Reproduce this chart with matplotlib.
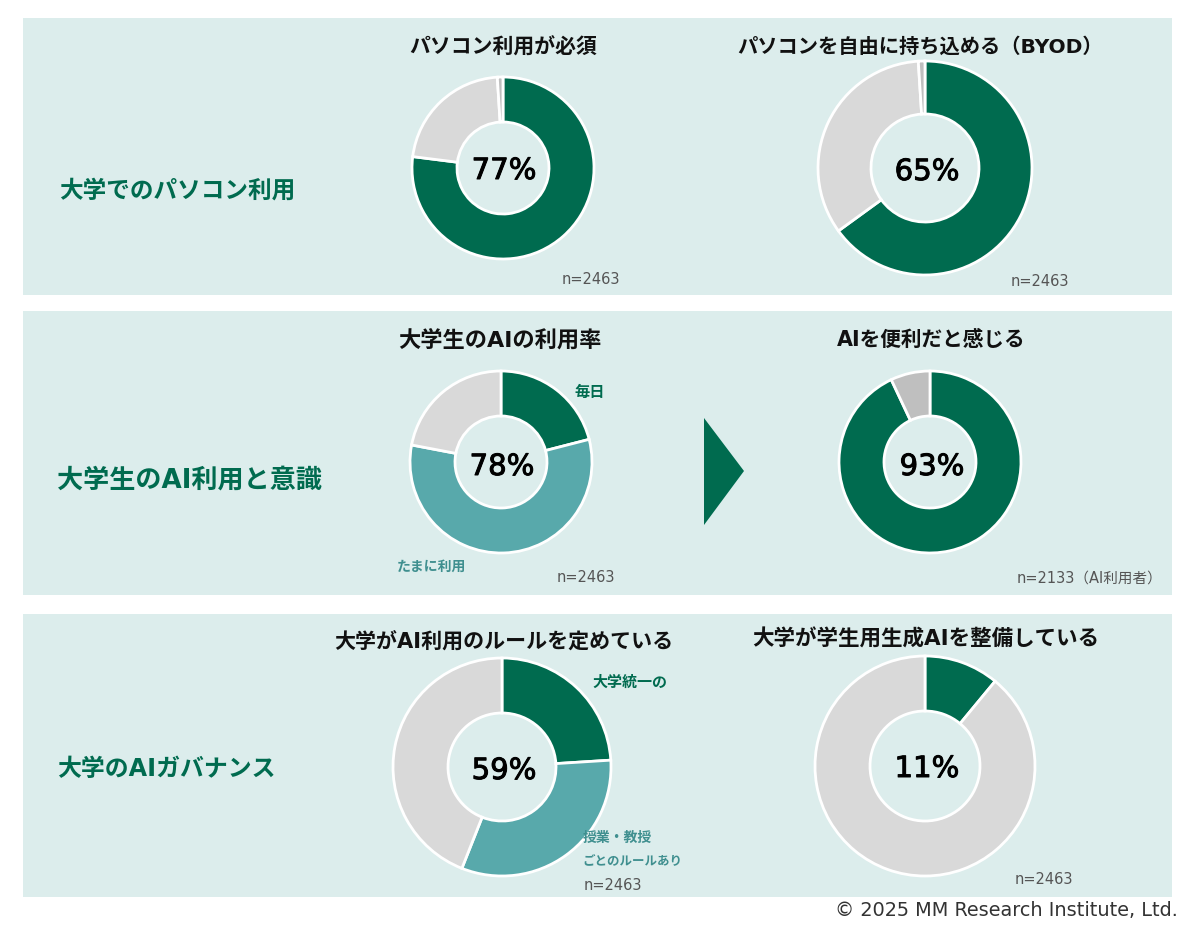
import matplotlib
matplotlib.use('Agg')
import matplotlib.pyplot as plt
import matplotlib.patheffects as pe
from matplotlib.patches import Rectangle, Polygon

plt.rcParams['font.family'] = ['DejaVu Sans', 'Noto Sans CJK JP']

# values
pc_required = [77, 22, 1]
pc_byod = [65, 34, 1]
ai_usage = [21, 57, 22]
ai_useful = [93, 7]
ai_rules = [24, 32, 44]
ai_provided = [11, 89]

center_labels = ['77%', '65%', '78%', '93%', '59%', '11%']
titles = ['パソコン利用が必須', 'パソコンを自由に持ち込める（BYOD）',
          '大学生のAIの利用率', 'AIを便利だと感じる',
          '大学がAI利用のルールを定めている', '大学が学生用生成AIを整備している']
section_labels = ['大学でのパソコン利用', '大学生のAI利用と意識', '大学のAIガバナンス']
sample_labels = ['n=2463', 'n=2463', 'n=2463', 'n=2133（AI利用者）', 'n=2463', 'n=2463']

GREEN = '#006B4F'
TEAL = '#58A9AB'
GRAY = '#D9D9D9'
DARK_GRAY = '#BFBFBF'
PANEL = '#DCEDEC'
W, H = 1200, 933

fig = plt.figure(figsize=(12, 9.33), dpi=100, facecolor='white')

# background axes in pixel coordinates
bg = fig.add_axes([0, 0, 1, 1], zorder=0)
bg.set_xlim(0, W)
bg.set_ylim(H, 0)
bg.axis('off')
for top, bottom in [(18, 295), (311, 595), (614, 897)]:
    bg.add_patch(Rectangle((23, top), 1149, bottom - top, facecolor=PANEL, edgecolor='none'))
bg.add_patch(Polygon([(704, 418), (744, 471), (704, 525)], facecolor=GREEN, edgecolor='none'))


def donut(values, colors, cx, cy, r, hole):
    ax = fig.add_axes([(cx - r - 2) / W, 1 - (cy + r + 2) / H, (2 * r + 4) / W, (2 * r + 4) / H], zorder=1)
    ax.pie(values, colors=colors, startangle=90, counterclock=False, radius=r,
           wedgeprops=dict(width=r - hole, edgecolor='white', linewidth=2))
    ax.set_xlim(-r - 2, r + 2)
    ax.set_ylim(-r - 2, r + 2)
    ax.set_aspect('equal')
    ax.axis('off')


donut(pc_required, [GREEN, GRAY, DARK_GRAY], 503, 168, 91, 46)
donut(pc_byod, [GREEN, GRAY, DARK_GRAY], 925, 168, 107, 54)
donut(ai_usage, [GREEN, TEAL, GRAY], 501, 462, 91, 46)
donut(ai_useful, [GREEN, DARK_GRAY], 930, 462, 91, 46)
donut(ai_rules, [GREEN, TEAL, GRAY], 502, 767, 109, 54)
donut(ai_provided, [GREEN, GRAY], 925, 766, 110, 55)

# text goes on top of the donuts
top_ax = fig.add_axes([0, 0, 1, 1], zorder=2)
top_ax.set_xlim(0, W)
top_ax.set_ylim(H, 0)
top_ax.axis('off')
top_ax.patch.set_alpha(0)

title_pos = [(503, 47), (920, 47), (500, 340), (931, 340), (504, 641), (926, 639)]
title_sizes = [15, 14.6, 16, 14.9, 15.1, 15.5]
for t, (x, y), s in zip(titles, title_pos, title_sizes):
    top_ax.text(x, y, t, ha='center', va='center', fontsize=s, fontweight='bold', color='#111111')

center_pos = [(504, 171), (927, 172), (502, 467), (932, 467), (504, 771), (927, 769)]
for t, (x, y) in zip(center_labels, center_pos):
    top_ax.text(x, y, t, ha='center', va='center', fontsize=21, color='black',
                path_effects=[pe.withStroke(linewidth=0.7, foreground='black')])

section_pos = [(59, 191), (57, 481), (57, 769)]
section_sizes = [17, 18.8, 17.2]
for t, (x, y), s in zip(section_labels, section_pos, section_sizes):
    top_ax.text(x, y, t, ha='left', va='center', fontsize=s, fontweight='bold', color=GREEN)

sample_pos = [(562, 279), (1011, 281), (557, 578), (1017, 578), (584, 885), (1015, 880)]
for t, (x, y) in zip(sample_labels, sample_pos):
    top_ax.text(x, y, t, ha='left', va='center', fontsize=10.5, color='#555555')

top_ax.text(574, 392, '毎日', ha='left', va='center', fontsize=11, fontweight='bold', color=GREEN)
top_ax.text(397, 567, 'たまに利用', ha='left', va='center', fontsize=10, fontweight='bold', color='#3F8F8F')
top_ax.text(592, 682, '大学統一の', ha='left', va='center', fontsize=10.8, fontweight='bold', color=GREEN)
top_ax.text(583, 838, '授業・教授', ha='left', va='center', fontsize=10, fontweight='bold', color='#3F8F8F')
top_ax.text(582, 862, 'ごとのルールあり', ha='left', va='center', fontsize=9, fontweight='bold', color='#3F8F8F')

top_ax.text(1178, 910, '© 2025 MM Research Institute, Ltd.', ha='right', va='center',
            fontsize=13.9, color='#333333')

fig.savefig('out.png', dpi=100)
